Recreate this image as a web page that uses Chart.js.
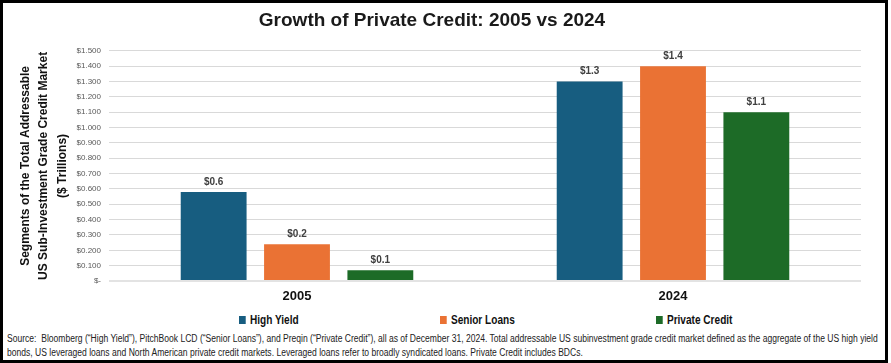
<!DOCTYPE html>
<html>
<head>
<meta charset="utf-8">
<script src="https://cdn.jsdelivr.net/npm/chart.js@4.4.1/dist/chart.umd.min.js"></script>
<style>
  body { margin: 0; background: #fff; }
  #wrap { position: relative; width: 891px; height: 363px; overflow: hidden; font-family: "Liberation Sans", Arial, sans-serif; }
  #chartBox { position: absolute; left: 0; top: 0; width: 891px; height: 312px; }
  #frame { position: absolute; left: 0; top: 0; width: 888px; height: 363px; border: 3px solid #000; box-sizing: border-box; pointer-events: none; }
  .leg { position: absolute; top: 312px; font-weight: bold; font-size: 12px; color: #111; line-height: 16px; white-space: nowrap; transform: scaleX(0.84); transform-origin: left center; }
  .leg i { display: inline-block; width: 8px; height: 8px; margin-right: 5px; vertical-align: 0px; }
  #note { position: absolute; left: 7px; top: 332px; font-size: 10px; line-height: 14px; color: #222; white-space: nowrap; transform-origin: left top; }
</style>
</head>
<body>
<div id="wrap">
  <div id="chartBox"><canvas id="myChart"></canvas></div>
  <div id="legend"></div>
  <div id="note">Source:&nbsp; Bloomberg (“High Yield”), PitchBook LCD (“Senior Loans”), and Preqin (“Private Credit”), all as of December 31, 2024. Total addressable US subinvestment grade credit market defined as the aggregate of the US high yield<br>bonds, US leveraged loans and North American private credit markets. Leveraged loans refer to broadly syndicated loans. Private Credit includes BDCs.</div>
  <div id="frame"></div>
</div>
<script>
const years = ['2005', '2024'];
const seriesNames = ['High Yield', 'Senior Loans', 'Private Credit'];
const highYield = [0.58, 1.30];
const seniorLoans = [0.24, 1.40];
const privateCredit = [0.07, 1.10];
const colors = ['#175d80', '#ea7234', '#1d6b27'];
const legendX = [239, 440, 656];

const sans = '"Liberation Sans", Arial, sans-serif';

// value labels above each bar
const barLabels = {
  id: 'barLabels',
  afterDatasetsDraw(chart) {
    const ctx = chart.ctx;
    ctx.save();
    ctx.font = 'bold 10px ' + sans;
    ctx.fillStyle = '#404040';
    ctx.textAlign = 'center';
    ctx.textBaseline = 'middle';
    chart.data.datasets.forEach((ds, i) => {
      chart.getDatasetMeta(i).data.forEach((bar, j) => {
        ctx.fillText('$' + ds.data[j].toFixed(1), bar.x, bar.y - 10);
      });
    });
    ctx.restore();
  }
};

chartIt();

function chartIt() {
  const ctx = document.getElementById('myChart').getContext('2d');
  const seriesData = [highYield, seniorLoans, privateCredit];
  const myChart = new Chart(ctx, {
    type: 'bar',
    data: {
      labels: years,
      datasets: seriesNames.map((name, i) => ({
        label: name,
        data: seriesData[i],
        backgroundColor: colors[i],
        categoryPercentage: 0.665,
        barPercentage: 0.79
      }))
    },
    plugins: [barLabels],
    options: {
      responsive: true,
      maintainAspectRatio: false,
      animation: false,
      layout: { padding: { left: 3, right: 30, top: 3, bottom: 5 } },
      plugins: {
        legend: { display: false },
        tooltip: { enabled: false },
        title: {
          display: true,
          text: 'Growth of Private Credit: 2005 vs 2024',
          color: '#1a1a1a',
          font: { family: sans, size: 19, weight: 'bold', lineHeight: 1.2 },
          padding: { top: 6, bottom: 19 }
        }
      },
      scales: {
        x: {
          afterFit(scale) { scale.height = 26; },
          grid: { display: false, drawTicks: false },
          border: { display: false },
          ticks: { color: '#111', padding: 8, font: { family: sans, size: 13, weight: 'bold' } }
        },
        y: {
          min: 0,
          max: 1.5,
          afterFit(scale) { scale.width = 106; },
          border: { display: false },
          grid: {
            drawTicks: false,
            color: ctx => ctx.tick.value === 0 ? '#e3e3e3' : '#d9d9d9',
            lineWidth: ctx => ctx.tick.value === 0 ? 2 : 1
          },
          ticks: {
            stepSize: 0.1,
            padding: 8,
            color: '#595959',
            font: { family: sans, size: 8 },
            callback: v => v === 0 ? '$-' : '$' + v.toFixed(3)
          },
          title: {
            display: true,
            text: ['Segments of the Total Addressable', 'US Sub-Investment Grade Credit Market', '($ Trillions)'],
            color: '#111',
            font: { family: sans, size: 12, weight: 'bold', lineHeight: 1.54 },
            padding: { top: 13, bottom: 0 }
          }
        }
      }
    }
  });

  // legend, drawn from the same series names and colours
  const legend = document.getElementById('legend');
  seriesNames.forEach((name, i) => {
    const item = document.createElement('div');
    item.className = 'leg';
    item.style.left = legendX[i] + 'px';
    item.innerHTML = '<i style="background:' + colors[i] + '"></i>' + name;
    legend.appendChild(item);
  });

  // squeeze the source note to the width it has in the original
  const note = document.getElementById('note');
  note.style.transform = 'scaleX(' + (871 / note.scrollWidth) + ')';
}
</script>
</body>
</html>
